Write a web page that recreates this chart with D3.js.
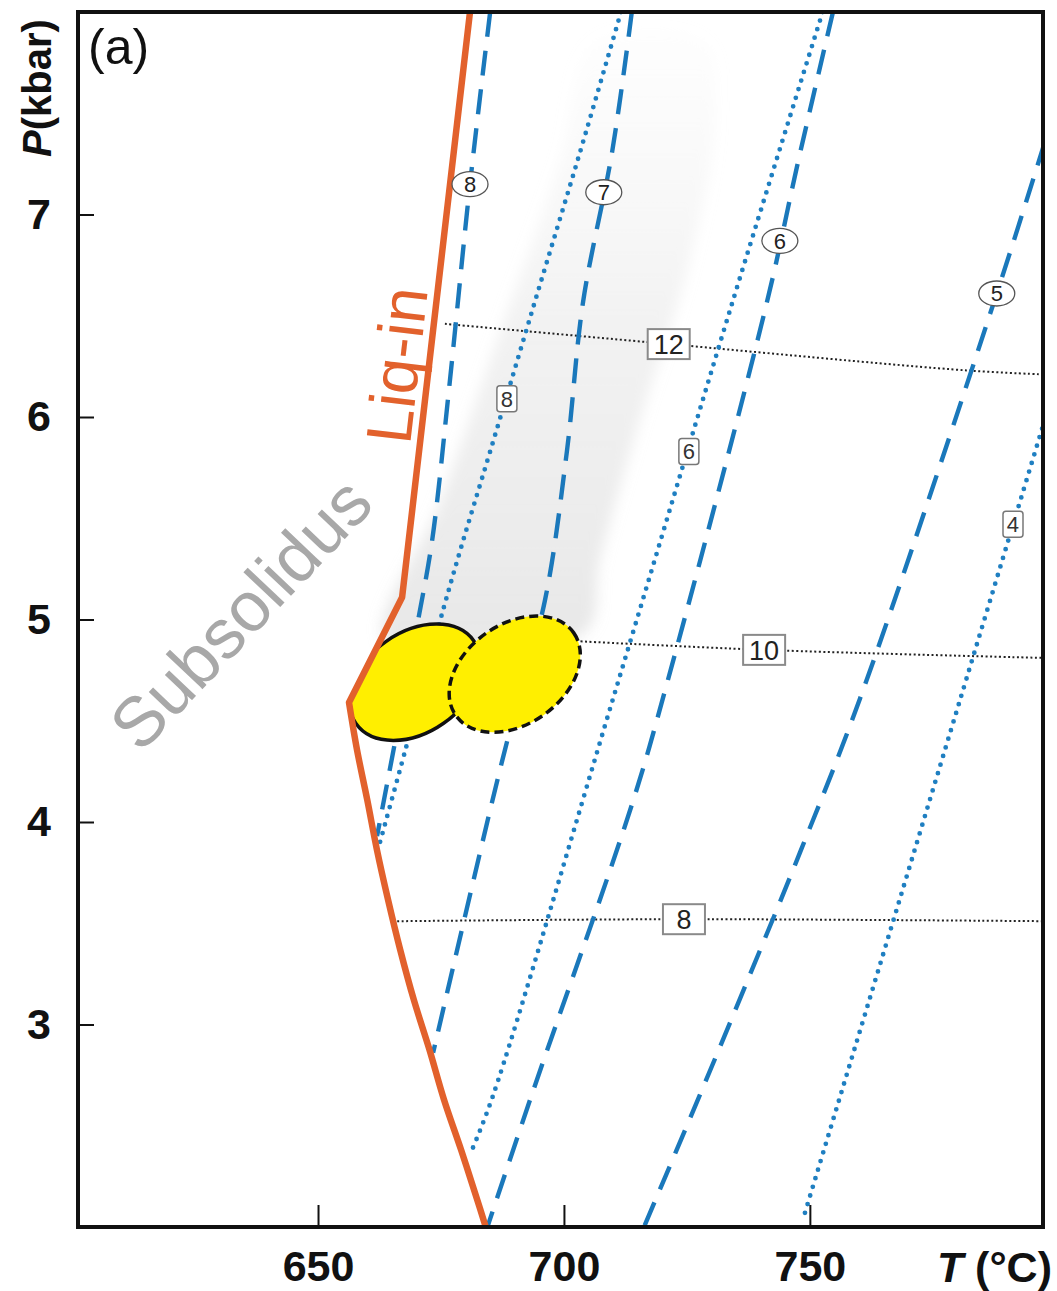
<!DOCTYPE html>
<html><head><meta charset="utf-8">
<script src="https://cdn.jsdelivr.net/npm/d3@7"></script>
<style>body{margin:0;background:#fff}</style>
</head><body>
<svg id="chart" width="1057" height="1291"></svg>
<script>
// ---- axis ticks ----
const tempTicks = [650, 700, 750];
const pressTicks = [3, 4, 5, 6, 7];

// ---- Liq-in (solidus) curve: T (°C), P (kbar) ----
const solidusT = [680.9, 667.1, 656.3, 657.9, 660.0, 662.0, 664.2, 666.7, 669.5, 672.6, 675.6, 679.1, 682.3, 684.1];
const solidusP = [8.0, 5.11, 4.59, 4.36, 4.11, 3.86, 3.62, 3.37, 3.12, 2.88, 2.63, 2.38, 2.14, 2.0];

// ---- dashed isopleths (oval labels) ----
const dash8T = [685.0, 680.9, 676.6, 673.2, 670.3, 665.7, 662.0];
const dash8P = [8.0, 7.15, 6.13, 5.39, 4.99, 4.40, 3.93];
const dash7T = [713.8, 709.8, 703.9, 700.6, 696.1, 689.0, 685.4, 673.4];
const dash7P = [8.0, 7.31, 6.57, 5.83, 5.09, 4.45, 4.10, 2.86];
const dash6T = [754.7, 747.6, 741.3, 720.9, 714.0, 693.7, 684.3];
const dash6P = [8.0, 7.26, 6.57, 4.68, 4.10, 2.67, 1.99];
const dash5T = [797.8, 788.0, 760.2, 748.0, 737.2, 727.6, 716.1];
const dash5P = [7.36, 6.61, 4.61, 3.85, 3.21, 2.65, 1.99];

// ---- dotted isopleths (square labels) ----
const dot8T = [711.6, 703.3, 694.1, 685.0, 678.9, 674.2, 667.7, 662.6];
const dot8P = [8.0, 7.31, 6.57, 5.83, 5.34, 4.94, 4.35, 3.90];
const dot6T = [752.6, 734.3, 710.0, 685.6, 681.3];
const dot6P = [8.0, 6.57, 4.61, 2.65, 2.38];
const dot4T = [798.8, 780.5, 749.0];
const dot4P = [6.07, 4.60, 2.07];

// ---- black dotted isolines (rectangular labels) ----
const iso12T = [675.8, 716.9, 781.9, 798.0];
const iso12P = [6.46, 6.37, 6.23, 6.21];
const iso10T = [697.0, 740.7, 798.0];
const iso10P = [4.90, 4.85, 4.81];
const iso8T = [666.1, 724.4, 798.0];
const iso8P = [3.51, 3.52, 3.51];

// ---- label positions ----
const ovalText = ["8", "7", "6", "5"];
const ovalT = [680.9, 708.1, 743.9, 788.0];
const ovalP = [7.15, 7.11, 6.87, 6.61];
const squareText = ["8", "6", "4"];
const squareT = [688.4, 725.4, 791.3];
const squareP = [6.09, 5.83, 5.47];
const boxText = ["12", "10", "8"];
const boxT = [721.3, 740.7, 724.4];
const boxP = [6.36, 4.85, 3.52];

// ---- shaded P–T path band ----
const bandT = [663.6, 674.8, 687.0, 699.2, 706.3, 728.7, 730.7, 725.6, 715.4, 707.3, 704.3];
const bandP = [4.89, 5.58, 6.42, 7.26, 7.85, 7.85, 7.46, 6.77, 5.98, 5.29, 4.94];

// ---- estimated P–T fields (ellipses): centre T, P ----
const fieldT = [669.7, 690.0];
const fieldP = [4.69, 4.73];

const zip = (a, b) => a.map((v, i) => [v, b[i]]);

const padL = 78, padR = 1043, padT = 12, padB = 1227;
const x = d3.scaleLinear().domain([601.2, 797.4]).range([padL, padR]);
const y = d3.scaleLinear().domain([2, 8]).range([padB, padT]);

const svg = d3.select("#chart");
const font = "'Liberation Sans', Arial, Helvetica, sans-serif";
const defs = svg.append("defs");

defs.append("clipPath").attr("id", "plot")
  .append("rect").attr("x", padL).attr("y", padT)
  .attr("width", padR - padL).attr("height", padB - padT);

const grad = defs.append("linearGradient").attr("id", "bandGrad")
  .attr("x1", 0).attr("y1", 1).attr("x2", 0).attr("y2", 0);
grad.append("stop").attr("offset", "0%").attr("stop-color", "#cfcfcf").attr("stop-opacity", 0.5);
grad.append("stop").attr("offset", "55%").attr("stop-color", "#dcdcdc").attr("stop-opacity", 0.35);
grad.append("stop").attr("offset", "100%").attr("stop-color", "#eeeeee").attr("stop-opacity", 0.1);
defs.append("filter").attr("id", "soft").attr("x", "-20%").attr("y", "-20%")
  .attr("width", "140%").attr("height", "140%")
  .append("feGaussianBlur").attr("stdDeviation", 7);

const lineLin = d3.line().x(d => x(d[0])).y(d => y(d[1]));
const lineCurve = d3.line().x(d => x(d[0])).y(d => y(d[1])).curve(d3.curveCatmullRom.alpha(0.5));

const solidus = zip(solidusT, solidusP);
// straight upper limb with a sharp bend, smooth lower limb
const solidusPath = lineLin(solidus.slice(0, 3)) + lineCurve(solidus.slice(2)).replace(/^M[^CL]*/, "");

// region on the high-T side of the solidus, used to trim the first field
const sideClip = solidusPath + `L${x(797.4)},${y(2)}L${x(797.4)},${y(8)}Z`;
defs.append("clipPath").attr("id", "aboveSolidus").append("path").attr("d", sideClip);

const plot = svg.append("g").attr("clip-path", "url(#plot)");

// shaded band
plot.append("path")
  .attr("d", d3.line().x(d => x(d[0])).y(d => y(d[1])).curve(d3.curveCatmullRomClosed)(zip(bandT, bandP)))
  .attr("fill", "url(#bandGrad)").attr("filter", "url(#soft)");

// black dotted isolines
[[iso12T, iso12P], [iso10T, iso10P], [iso8T, iso8P]].forEach(([t, p]) => {
  plot.append("path").attr("d", lineCurve(zip(t, p)))
    .attr("fill", "none").attr("stroke", "#222").attr("stroke-width", 2)
    .attr("stroke-dasharray", "2,2.5");
});

// dotted blue isopleths
[[dot8T, dot8P], [dot6T, dot6P], [dot4T, dot4P]].forEach(([t, p]) => {
  plot.append("path").attr("d", lineCurve(zip(t, p)))
    .attr("fill", "none").attr("stroke", "#1f7fc1").attr("stroke-width", 4.8)
    .attr("stroke-linecap", "round").attr("stroke-dasharray", "0,9");
});

// dashed blue isopleths
[[dash8T, dash8P], [dash7T, dash7P], [dash6T, dash6P], [dash5T, dash5P]].forEach(([t, p]) => {
  plot.append("path").attr("d", lineCurve(zip(t, p)))
    .attr("fill", "none").attr("stroke", "#1a78bb").attr("stroke-width", 4.4)
    .attr("stroke-dasharray", "25,14");
});

// P–T fields
const ellA = 72, ellB = 50, ellRot = -35;
const fields = plot.append("g");
fields.append("g").attr("clip-path", "url(#aboveSolidus)")
  .append("ellipse")
  .attr("cx", 0).attr("cy", 0).attr("rx", ellA).attr("ry", ellB)
  .attr("transform", `translate(${x(fieldT[0])},${y(fieldP[0])}) rotate(${ellRot})`)
  .attr("fill", "#ffef00").attr("stroke", "#111").attr("stroke-width", 3.5);
fields.append("ellipse")
  .attr("cx", 0).attr("cy", 0).attr("rx", ellA).attr("ry", ellB)
  .attr("transform", `translate(${x(fieldT[1])},${y(fieldP[1])}) rotate(${ellRot})`)
  .attr("fill", "#ffef00").attr("stroke", "#111").attr("stroke-width", 3.5)
  .attr("stroke-dasharray", "9,5");

// Liq-in curve
plot.append("path").attr("d", solidusPath)
  .attr("fill", "none").attr("stroke", "#e2612c").attr("stroke-width", 6.5)
  .attr("stroke-linejoin", "round");

// oval labels
ovalText.forEach((s, i) => {
  const g = plot.append("g").attr("transform", `translate(${x(ovalT[i])},${y(ovalP[i])})`);
  g.append("ellipse").attr("rx", 18).attr("ry", 12.5).attr("fill", "#fff")
    .attr("stroke", "#555").attr("stroke-width", 1.3);
  g.append("text").text(s).attr("text-anchor", "middle").attr("dy", "0.36em")
    .attr("font-family", font).attr("font-size", 22).attr("fill", "#222");
});
// square labels
squareText.forEach((s, i) => {
  const g = plot.append("g").attr("transform", `translate(${x(squareT[i])},${y(squareP[i])})`);
  g.append("rect").attr("x", -10).attr("y", -13).attr("width", 20).attr("height", 26).attr("rx", 3)
    .attr("fill", "#fff").attr("stroke", "#777").attr("stroke-width", 1.5);
  g.append("text").text(s).attr("text-anchor", "middle").attr("dy", "0.36em")
    .attr("font-family", font).attr("font-size", 22).attr("fill", "#333");
});
// rectangular labels
boxText.forEach((s, i) => {
  const g = plot.append("g").attr("transform", `translate(${x(boxT[i])},${y(boxP[i])})`);
  g.append("rect").attr("x", -21).attr("y", -15).attr("width", 42).attr("height", 30)
    .attr("fill", "#fff").attr("stroke", "#8a8a8a").attr("stroke-width", 2);
  g.append("text").text(s).attr("text-anchor", "middle").attr("dy", "0.36em")
    .attr("font-family", font).attr("font-size", 27).attr("fill", "#222");
});

// field names
svg.append("text").text("Liq-in")
  .attr("transform", `translate(396,365) rotate(-83.4)`)
  .attr("text-anchor", "middle").attr("dy", "0.36em")
  .attr("font-family", font).attr("font-size", 64).attr("fill", "#e2612c");
svg.append("text").text("Subsolidus")
  .attr("transform", `translate(240,613) rotate(-46.5)`)
  .attr("text-anchor", "middle").attr("dy", "0.36em")
  .attr("font-family", font).attr("font-size", 70).attr("fill", "#a8a8a8");
svg.append("text").text("(a)").attr("x", 88).attr("y", 64)
  .attr("font-family", font).attr("font-size", 50).attr("fill", "#111");

// axes
const yAxis = svg.append("g").attr("transform", `translate(${padL},0)`)
  .call(d3.axisLeft(y).tickValues(pressTicks).tickSize(-16).tickPadding(27).tickFormat(d3.format("d")));
const xAxis = svg.append("g").attr("transform", `translate(0,${padB})`)
  .call(d3.axisBottom(x).tickValues(tempTicks).tickSize(-22).tickPadding(23).tickFormat(d3.format("d")));
[yAxis, xAxis].forEach(a => {
  a.select(".domain").remove();
  a.selectAll(".tick line").attr("stroke", "#111").attr("stroke-width", 2);
  a.selectAll(".tick text").attr("font-family", font).attr("font-weight", "bold")
    .attr("font-size", 43).attr("fill", "#111");
});

// axis titles
const pt = svg.append("text").attr("transform", "translate(51,88) rotate(-90)")
  .attr("text-anchor", "middle").attr("font-family", font).attr("font-weight", "bold")
  .attr("font-size", 40).attr("fill", "#111");
pt.append("tspan").attr("font-style", "italic").text("P");
pt.append("tspan").text("(kbar)");
const tt = svg.append("text").attr("x", 1052).attr("y", 1282).attr("text-anchor", "end")
  .attr("font-family", font).attr("font-weight", "bold").attr("font-size", 43).attr("fill", "#111");
tt.append("tspan").attr("font-style", "italic").text("T");
tt.append("tspan").text(" (°C)");

// frame
svg.append("rect").attr("x", padL).attr("y", padT).attr("width", padR - padL).attr("height", padB - padT)
  .attr("fill", "none").attr("stroke", "#111").attr("stroke-width", 4);
</script>
</body></html>
